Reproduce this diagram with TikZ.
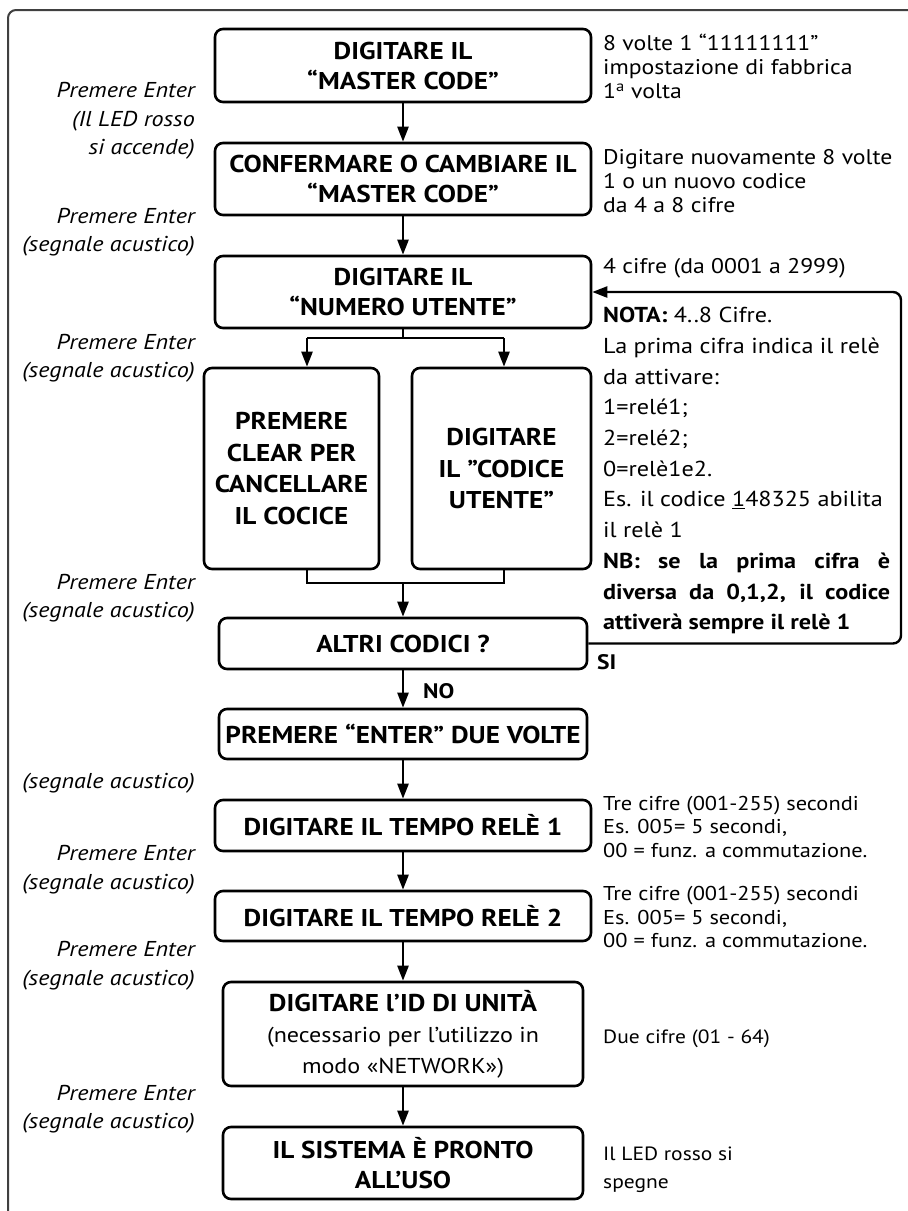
\documentclass[tikz,border=0pt]{standalone}
\usepackage{fontspec}
\setmainfont{PT Sans}[FakeStretch=1.12]
\usetikzlibrary{arrows.meta}
\newcommand{\sq}{\char34\relax}
\begin{document}
\begin{tikzpicture}[x=1pt,y=-1pt,
  box/.style={draw, line width=2.6pt, rounded corners=8pt, align=center,
    font=\bfseries\fontsize{24.3}{30}\selectfont, inner sep=0pt},
  conn/.style={line width=2.4pt},
  arr/.style={conn, -{Triangle[length=15pt,width=11pt]}},
  lbl/.style={font=\itshape\fontsize{21.5}{28.5}\selectfont, align=right, anchor=base east, inner sep=0pt},
  note/.style={font=\fontsize{21.2}{24}\selectfont, align=left, anchor=base west, inner sep=0pt},
  yn/.style={font=\bfseries\fontsize{21}{24}\selectfont, anchor=base west, inner sep=0pt},
]
\useasboundingbox (0,0) rectangle (908,1211);
\draw[line width=2pt, black!75, rounded corners=8pt] (8,1240) -- (8,10) -- (940,10);

% boxes
\node[box, minimum width=376pt, minimum height=73pt] (b1) at (403,65.5) {DIGITARE IL\\“MASTER CODE”};
\node[box, minimum width=376pt, minimum height=72pt] (b2) at (403,179) {CONFERMARE O CAMBIARE IL\\“MASTER CODE”};
\node[box, minimum width=376pt, minimum height=72pt] (b3) at (403,292) {DIGITARE IL\\“NUMERO UTENTE”};
\node[box, minimum width=175pt, minimum height=201pt, font=\bfseries\fontsize{24.3}{31.7}\selectfont] (clr) at (291.5,468.5) {PREMERE\\CLEAR PER\\CANCELLARE\\IL COCICE};
\node[box, minimum width=179pt, minimum height=201pt, font=\bfseries\fontsize{24.3}{31.7}\selectfont] (usr) at (501.5,468.5) {DIGITARE\\IL \sq CODICE\\UTENTE\sq};
\node[box, minimum width=368pt, minimum height=51pt] (altri) at (403,643.5) {ALTRI CODICI ?};
\node[box, minimum width=368pt, minimum height=50pt] (ent) at (403,734) {PREMERE “ENTER” DUE VOLTE};
\node[box, minimum width=376pt, minimum height=51pt] (t1) at (403,825.5) {DIGITARE IL TEMPO RELÈ 1};
\node[box, minimum width=376pt, minimum height=50pt] (t2) at (403,916) {DIGITARE IL TEMPO RELÈ 2};
\node[box, minimum width=360pt, minimum height=104pt, font=\fontsize{21.5}{31}\selectfont] (id) at (403,1034) {{\bfseries\fontsize{24.3}{31}\selectfont DIGITARE l’ID DI UNITÀ}\\(necessario per l’utilizzo in\\modo «NETWORK»)};
\node[box, minimum width=360pt, minimum height=72pt] (fin) at (403,1163) {IL SISTEMA È PRONTO\\ALL’USO};

% connectors
\draw[arr] (b1) -- (b2);
\draw[arr] (b2) -- (b3);
\coordinate (sL) at (307,338);
\coordinate (sR) at (504,338);
\draw[conn] (b3.south) -- (b3.south |- sL);
\draw[conn] (sL) -- (sR);
\draw[arr] (sL) -- (sL |- clr.north);
\draw[arr] (sR) -- (sR |- usr.north);
\coordinate (mL) at (307,583);
\coordinate (mR) at (504,583);
\draw[conn] (mL |- clr.south) -- (mL) -- (mR) -- (mR |- usr.south);
\draw[arr] (altri.north |- mL) -- (altri.north);
\draw[arr] (altri) -- (ent);
\draw[arr] (ent) -- (t1);
\draw[arr] (t1) -- (t2);
\draw[arr] (t2) -- (id);
\draw[arr] (id) -- (fin);
\coordinate (fb) at (901,0);
\draw[arr, rounded corners=8pt] (altri.east) -- (altri.east -| fb) -- (b3.east -| fb) -- (b3.east);

\node[yn] (no) at (423,698) {NO};
\node[yn] (si) at (597,669) {SI};

% left labels (anchor = baseline of last line)
\node[lbl] (l1) at (195,154.5) {Premere Enter\\(Il LED rosso\\si accende)};
\node[lbl] (l2) at (195,251.5) {Premere Enter\\(segnale acustico)};
\node[lbl] (l3) at (195,377.5) {Premere Enter\\(segnale acustico)};
\node[lbl] (l4) at (195,617.5) {Premere Enter\\(segnale acustico)};
\node[lbl] (l5) at (195,788) {(segnale acustico)};
\node[lbl] (l6) at (195,889.2) {Premere Enter\\(segnale acustico)};
\node[lbl] (l7) at (195,985.2) {Premere Enter\\(segnale acustico)};
\node[lbl] (l8) at (195,1128.5) {Premere Enter\\(segnale acustico)};

% right notes (anchor = baseline of last line)
\node[note] (n1) at (603,98.7) {8 volte 1 “11111111”\\impostazione di fabbrica\\1\textsuperscript{a} volta};
\node[note] (n2) at (603,212) {Digitare nuovamente 8 volte\\1 o un nuovo codice\\da 4 a 8 cifre};
\node[note] (n3) at (603,273) {4 cifre (da 0001 a 2999)};
\node[anchor=base west, inner sep=0pt, text width=287pt, align=justify,
  font=\fontsize{21.6}{30.7}\selectfont] (nota) at (603,322.7)
  {\textbf{NOTA:} 4..8 Cifre.\\La prima cifra indica il relè\\da attivare:\\1=relé1;\\2=relé2;\\0=relè1e2.\\Es. il codice \underline{1}48325 abilita\\il relè 1\\\textbf{NB: se la prima cifra è\linebreak diversa da 0,1,2, il codice\linebreak attiverà sempre il relè 1}};
\node[note, font=\fontsize{20}{23.5}\selectfont] (n5) at (603,857) {Tre cifre (001-255) secondi\\Es. 005= 5 secondi,\\00 = funz. a commutazione.};
\node[note, font=\fontsize{20}{23.5}\selectfont] (n6) at (603,947.7) {Tre cifre (001-255) secondi\\Es. 005= 5 secondi,\\00 = funz. a commutazione.};
\node[note, font=\fontsize{19.2}{24}\selectfont] (n7) at (603,1043) {Due cifre (01 - 64)};
\node[note, font=\fontsize{19.2}{28}\selectfont] (n8) at (603,1188) {Il LED rosso si\\spegne};
\end{tikzpicture}
\end{document}
